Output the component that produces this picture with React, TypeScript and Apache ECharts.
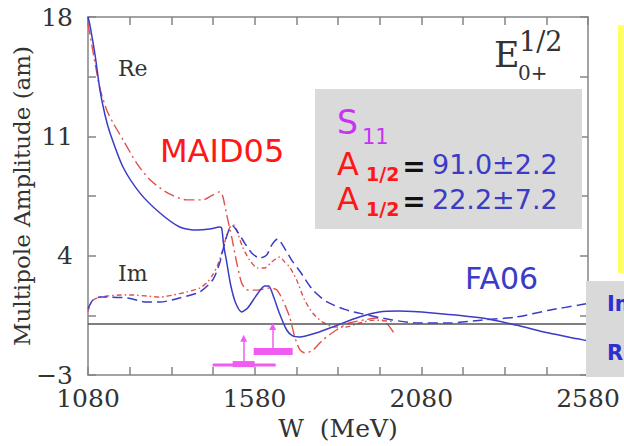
import React, { useEffect, useRef } from "react";
import * as echarts from "echarts";

// Axis tick labels
const energyTicks = [1080, 1580, 2080, 2580];
const amplitudeTicks = [18, 11, 4, -3];

// E0+ (I=1/2) multipole, [W (MeV), amplitude (am)]
const reFA06: [number, number][] = [
  [1080, 18], [1086, 17.5], [1101, 15.8], [1116, 13.7], [1131, 12.25], [1146, 11.2],
  [1185, 9.2], [1236, 7.67], [1296, 6.5], [1355, 5.68], [1406, 5.5], [1445, 5.56],
  [1475, 5.68], [1481, 5.62], [1487, 4.62], [1496, 3.63], [1508, 2.28], [1523, 1.22],
  [1541, 0.7], [1559, 0.93], [1586, 1.69], [1610, 2.22], [1622, 2.22], [1637, 1.57],
  [1655, 0.58], [1676, -0.36], [1694, -0.71], [1715, -0.77], [1754, -0.6], [1814, -0.18],
  [1894, 0.4], [1954, 0.7], [2014, 0.75], [2113, 0.64], [2263, 0.34], [2364, -0.07],
  [2463, -0.54], [2553, -0.89], [2580, -1.0],
];

const imFA06: [number, number][] = [
  [1080, 0.9], [1095, 1.4], [1116, 1.57], [1137, 1.57], [1197, 1.52], [1257, 1.28],
  [1296, 1.28], [1355, 1.52], [1415, 1.87], [1454, 2.57], [1475, 3.57], [1490, 4.74],
  [1505, 5.62], [1514, 5.74], [1529, 5.39], [1550, 4.74], [1571, 4.16], [1595, 3.86],
  [1616, 4.04], [1631, 4.62], [1649, 4.98], [1664, 4.62], [1691, 3.74], [1715, 3.1],
  [1754, 2.0], [1796, 1.3], [1850, 0.85], [1900, 0.6], [1993, 0.23], [2065, 0.05],
  [2164, 0.05], [2263, 0.23], [2364, 0.4], [2463, 0.8], [2553, 1.1], [2580, 1.2],
];

const reMAID05: [number, number][] = [
  [1080, 17.6], [1092, 16.3], [1101, 15.3], [1116, 13.8], [1137, 12.5], [1155, 11.8],
  [1185, 10.8], [1227, 9.4], [1266, 8.45], [1317, 7.7], [1376, 7.27], [1424, 7.27],
  [1454, 7.55], [1475, 7.75], [1484, 7.5], [1496, 6.4], [1511, 5.1], [1526, 3.6],
  [1541, 2.4], [1556, 2.0], [1586, 1.98], [1625, 2.1], [1646, 2.0], [1664, 1.4],
  [1685, 0.4], [1700, -0.75], [1715, -1.5], [1730, -1.7], [1754, -1.55], [1784, -0.95],
  [1825, -0.36], [1864, 0.05], [1915, 0.25], [1948, 0.34], [1975, 0.05], [2000, -0.6],
];

const imMAID05: [number, number][] = [
  [1080, 0.7], [1086, 1.1], [1095, 1.4], [1116, 1.57], [1137, 1.63], [1176, 1.69],
  [1215, 1.69], [1257, 1.63], [1296, 1.57], [1335, 1.69], [1376, 1.87], [1415, 2.1],
  [1436, 2.4], [1454, 2.87], [1469, 3.45], [1484, 4.33], [1496, 5.2], [1508, 5.74],
  [1517, 5.8], [1526, 5.5], [1544, 4.5], [1565, 3.74], [1589, 3.28], [1610, 3.28],
  [1631, 3.63], [1655, 3.92], [1670, 3.63], [1685, 3.33], [1706, 2.57], [1730, 1.4],
  [1754, 0.64], [1784, 0.1], [1820, -0.18], [1856, -0.18], [1894, 0.05], [1939, 0.22],
  [2000, 0.12],
];

// Resonance position bands and arrows (W in MeV, amplitude level)
const s11LowerWide: [number, number][] = [[1454, -2.42], [1643, -2.42]];
const s11LowerCore: [number, number][] = [[1514, -2.36], [1580, -2.36]];
const s11Upper: [number, number][] = [[1577, -1.62], [1694, -1.62]];
const s11Arrows: [number, number, number][] = [
  // [W, from, to]
  [1547, -2.36, -0.85],
  [1634, -1.62, -0.15],
];

const BLUE = "#3b3bc6";
const RED = "#e2504c";
const MAGENTA = "#f05cf0";
const AXIS = "#858585";

const near = (list: number[], v: number) => list.some((t) => Math.abs(t - v) < 1e-6);

export default function App() {
  const ref = useRef<HTMLDivElement>(null);

  useEffect(() => {
    if (!ref.current) return;
    const chart = echarts.init(ref.current, undefined, { renderer: "svg" });

    const axisLine = { show: true, onZero: false, lineStyle: { color: AXIS, width: 1.5 } };
    const axisTick = { show: true, inside: true, length: 8, lineStyle: { color: AXIS, width: 1.5 } };
    const serif = "DejaVu Serif";
    const sans = "DejaVu Sans";

    const txt = (
      text: string,
      x: number,
      y: number,
      fill: string,
      fontSize: number,
      extra: Record<string, any> = {}
    ) => ({
      type: "text",
      x,
      y,
      z: 100,
      style: {
        text,
        fill,
        fontSize,
        fontFamily: sans,
        align: "left",
        verticalAlign: "middle",
        ...extra,
      },
    });

    chart.setOption({
      animation: false,
      backgroundColor: "#ffffff",
      grid: { left: 88, top: 17, right: 36, bottom: 71, containLabel: false },
      xAxis: [
        {
          type: "value",
          min: 1080,
          max: 2580,
          interval: 125,
          position: "bottom",
          axisLine,
          axisTick,
          splitLine: { show: false },
          axisLabel: {
            formatter: (v: number) => (near(energyTicks, v) ? String(Math.round(v)) : ""),
            fontFamily: serif,
            fontSize: 25,
            color: "#333",
            margin: 11,
            showMinLabel: true,
            showMaxLabel: true,
          },
        },
        {
          type: "value",
          min: 1080,
          max: 2580,
          interval: 125,
          position: "top",
          axisLine,
          axisTick,
          splitLine: { show: false },
          axisLabel: { show: false },
        },
      ],
      yAxis: [
        {
          type: "value",
          min: -3,
          max: 18,
          interval: 3.5,
          position: "left",
          axisLine,
          axisTick,
          splitLine: { show: false },
          axisLabel: {
            formatter: (v: number) => {
              if (!near(amplitudeTicks, v)) return "";
              const r = Math.round(v);
              return r < 0 ? "\u2212" + Math.abs(r) : String(r);
            },
            fontFamily: serif,
            fontSize: 25,
            color: "#333",
            margin: 15,
            showMinLabel: true,
            showMaxLabel: true,
          },
        },
        {
          type: "value",
          min: -3,
          max: 18,
          interval: 3.5,
          position: "right",
          axisLine,
          axisTick,
          splitLine: { show: false },
          axisLabel: { show: false },
        },
      ],
      series: [
        {
          name: "Re FA06",
          type: "line",
          data: reFA06,
          showSymbol: false,
          smooth: 0.25,
          z: 5,
          lineStyle: { color: BLUE, width: 1.5 },
          markLine: {
            silent: true,
            symbol: ["none", "none"],
            label: { show: false },
            lineStyle: { color: "#555", width: 1.5, type: "solid" },
            data: [{ yAxis: 0 }],
          },
        },
        {
          name: "Im FA06",
          type: "line",
          data: imFA06,
          showSymbol: false,
          smooth: 0.25,
          z: 4,
          lineStyle: { color: BLUE, width: 1.5, type: [10, 5] },
        },
        {
          name: "Re MAID05",
          type: "line",
          data: reMAID05,
          showSymbol: false,
          smooth: 0.25,
          z: 3,
          lineStyle: { color: RED, width: 1.4, type: [11, 4, 2, 4] },
        },
        {
          name: "Im MAID05",
          type: "line",
          data: imMAID05,
          showSymbol: false,
          smooth: 0.25,
          z: 3,
          lineStyle: { color: RED, width: 1.4, type: [5, 3, 1.5, 3] },
        },
        {
          type: "line",
          data: s11LowerWide,
          showSymbol: false,
          z: 6,
          lineStyle: { color: MAGENTA, width: 3, cap: "butt" },
        },
        {
          type: "line",
          data: s11LowerCore,
          showSymbol: false,
          z: 6,
          lineStyle: { color: MAGENTA, width: 6, cap: "butt" },
        },
        {
          type: "line",
          data: s11Upper,
          showSymbol: false,
          z: 6,
          lineStyle: { color: MAGENTA, width: 7, cap: "butt" },
        },
        {
          type: "lines",
          coordinateSystem: "cartesian2d",
          z: 6,
          symbol: ["none", "triangle"],
          symbolSize: [5, 7],
          lineStyle: { color: MAGENTA, width: 1.5, opacity: 1 },
          data: s11Arrows.map(([w, a, b]) => ({ coords: [[w, a], [w, b]] })),
        },
      ],
      graphic: [
        // curve labels inside the frame
        txt("Re", 118, 68, "#333", 22, { fontFamily: serif }),
        txt("Im", 118, 273, "#333", 22, { fontFamily: serif }),
        // multipole name
        txt("E", 494, 55, "#333", 35, { fontFamily: serif }),
        txt("1/2", 519, 41, "#333", 27, { fontFamily: serif }),
        txt("0+", 518, 73, "#333", 20, { fontFamily: serif }),
        // model names
        txt("MAID05", 160, 151, "#ff1616", 32),
        txt("FA06", 465, 278, BLUE, 30),
        // photocoupling box
        {
          type: "rect",
          z: 90,
          shape: { x: 315, y: 89, width: 267, height: 140 },
          style: { fill: "#dadada" },
        },
        txt("S", 337, 122, "#c832f5", 33),
        txt("11", 362, 137, "#c832f5", 21),
        txt("A", 337, 164, "#ff1616", 32),
        txt("1/2", 366, 174, "#ff1616", 19, { fontWeight: "bold" }),
        txt("=", 414, 166, "#111", 28, { align: "center", fontWeight: "bold" }),
        txt("91.0\u00b12.2", 432, 164, BLUE, 27),
        txt("A", 337, 199, "#ff1616", 32),
        txt("1/2", 366, 209, "#ff1616", 19, { fontWeight: "bold" }),
        txt("=", 414, 201, "#111", 28, { align: "center", fontWeight: "bold" }),
        txt("22.2\u00b17.2", 432, 199, BLUE, 27),
        // side panels
        {
          type: "rect",
          z: 90,
          shape: { x: 618, y: 25, width: 10, height: 248 },
          style: { fill: "#ffff66" },
        },
        {
          type: "rect",
          z: 90,
          shape: { x: 586, y: 281, width: 40, height: 96 },
          style: { fill: "#d9d9d9" },
        },
        txt("Im", 607, 304, "#2f2fd0", 21, { fontWeight: "bold" }),
        txt("Re", 607, 353, "#2f2fd0", 21, { fontWeight: "bold" }),
        // axis titles
        {
          type: "text",
          x: 22,
          y: 196,
          rotation: Math.PI / 2,
          z: 100,
          style: {
            text: "Multipole Amplitude (am)",
            fill: "#333",
            fontSize: 23,
            fontFamily: serif,
            align: "center",
            verticalAlign: "middle",
          },
        },
        txt("W  (MeV)", 338, 428, "#333", 25, { fontFamily: serif, align: "center" }),
      ],
    });

    return () => chart.dispose();
  }, []);

  return (
    <div
      ref={ref}
      style={{ position: "fixed", left: 0, top: 0, width: 624, height: 446, background: "#fff" }}
    />
  );
}
